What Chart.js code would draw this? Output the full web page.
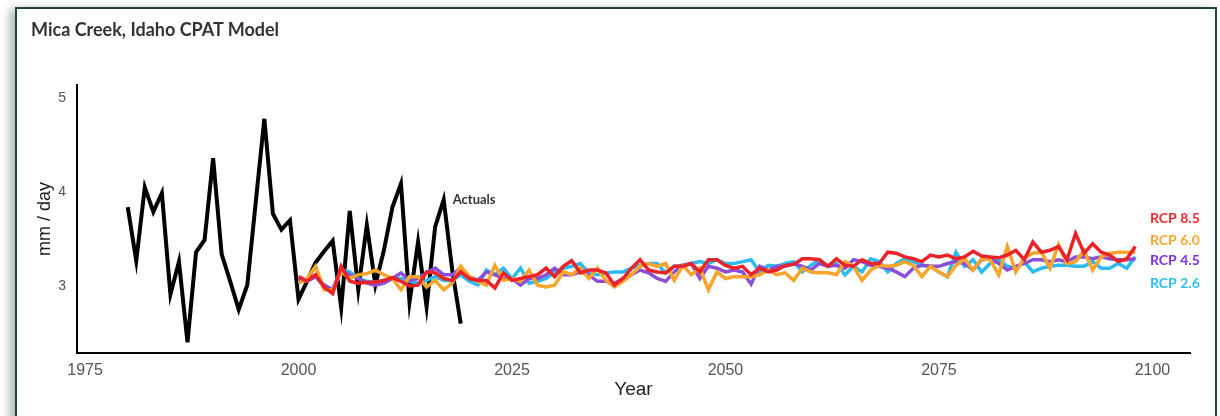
<!DOCTYPE html>
<html lang="en">
<head>
  <meta charset="UTF-8">
  <title>Mica Creek, Idaho CPAT Model</title>
  <script src="https://cdn.jsdelivr.net/npm/chart.js"></script>
  <style>
    body {
      margin: 0;
      padding: 0;
      background: #fff;
      width: 1220px;
      height: 416px;
      overflow: hidden;
      position: relative;
    }
    #card {
      position: absolute;
      left: 15px;
      top: 7px;
      width: 1198px;
      height: 430px;
      border: 2px solid #1d4b2b;
      box-shadow: -5px 2px 9px rgba(0, 0, 0, 0.3);
      background: #fff;
    }
    #title {
      position: absolute;
      left: 31px;
      top: 18px;
      font-family: 'Lato', sans-serif;
      font-weight: 700;
      font-size: 18px;
      color: #333;
      z-index: 2;
    }
    #chart {
      position: absolute;
      left: 0;
      top: 0;
    }
  </style>
</head>
<body>
  <div id="card"></div>
  <div id="title">Mica Creek, Idaho CPAT Model</div>
  <canvas id="chart" width="1220" height="416"></canvas>
  <script>
    // observed record
    const actualYears = [1980, 1981, 1982, 1983, 1984, 1985, 1986, 1987, 1988, 1989,
      1990, 1991, 1992, 1993, 1994, 1995, 1996, 1997, 1998, 1999,
      2000, 2001, 2002, 2003, 2004, 2005, 2006, 2007, 2008, 2009,
      2010, 2011, 2012, 2013, 2014, 2015, 2016, 2017, 2018, 2019];
    const actuals = [3.84, 3.27, 4.05, 3.79, 3.99, 2.91, 3.26, 2.40, 3.36, 3.49,
      4.36, 3.34, 3.05, 2.75, 3.01, 3.90, 4.78, 3.77, 3.60, 3.70,
      2.86, 3.05, 3.25, 3.37, 3.48, 2.77, 3.80, 2.96, 3.65, 3.01,
      3.38, 3.84, 4.09, 2.83, 3.47, 2.78, 3.63, 3.92, 3.17, 2.60];

    // model runs, one value per year from 2000
    const projYears = Array.from({ length: 99 }, (_, i) => 2000 + i);

    const rcp85 = [3.10, 3.05, 3.12, 2.99, 2.92, 3.21, 3.05, 3.03, 3.04, 3.04, 3.06, 3.09, 3.05, 3.00, 3.01, 3.15, 3.14,
      3.08, 3.06, 3.15, 3.08, 3.06, 3.06, 2.98, 3.14, 3.06, 3.08, 3.10, 3.12, 3.19, 3.10, 3.21, 3.27, 3.14,
      3.17, 3.17, 3.14, 3.01, 3.08, 3.19, 3.28, 3.17, 3.15, 3.14, 3.21, 3.21, 3.24, 3.15, 3.28, 3.28, 3.22,
      3.19, 3.21, 3.12, 3.19, 3.15, 3.17, 3.22, 3.23, 3.29, 3.29, 3.28, 3.21, 3.29, 3.22, 3.21, 3.28, 3.24,
      3.24, 3.36, 3.35, 3.31, 3.29, 3.26, 3.33, 3.31, 3.33, 3.29, 3.31, 3.37, 3.32, 3.31, 3.30, 3.33, 3.38,
      3.28, 3.47, 3.36, 3.38, 3.42, 3.28, 3.56, 3.35, 3.45, 3.36, 3.33, 3.26, 3.29, 3.42];
    const rcp60 = [3.03, 3.08, 3.21, 2.96, 2.96, 3.15, 3.08, 3.12, 3.13, 3.17, 3.12, 3.08, 2.96, 3.10, 3.10, 2.99, 3.06,
      2.96, 3.03, 3.21, 3.10, 3.05, 3.01, 3.22, 3.06, 3.08, 3.05, 3.17, 3.01, 2.99, 3.01, 3.15, 3.12, 3.19,
      3.08, 3.19, 3.06, 2.99, 3.05, 3.12, 3.21, 3.24, 3.21, 3.24, 3.06, 3.22, 3.12, 3.19, 2.96, 3.15, 3.08,
      3.10, 3.10, 3.10, 3.12, 3.17, 3.12, 3.14, 3.06, 3.19, 3.15, 3.14, 3.14, 3.12, 3.26, 3.21, 3.06, 3.17,
      3.22, 3.21, 3.22, 3.26, 3.22, 3.10, 3.21, 3.15, 3.10, 3.22, 3.29, 3.17, 3.29, 3.28, 3.12, 3.42, 3.15,
      3.30, 3.35, 3.36, 3.19, 3.44, 3.24, 3.26, 3.38, 3.17, 3.31, 3.35, 3.36, 3.36, 3.36];
    const rcp45 = [3.06, 3.06, 3.10, 3.01, 2.96, 3.17, 3.12, 3.08, 3.03, 3.01, 3.03, 3.08, 3.14, 3.06, 3.08, 3.14, 3.19,
      3.12, 3.12, 3.19, 3.10, 3.06, 3.15, 3.12, 3.08, 3.08, 3.01, 3.08, 3.08, 3.12, 3.19, 3.12, 3.12, 3.15,
      3.12, 3.05, 3.05, 3.03, 3.08, 3.12, 3.17, 3.14, 3.08, 3.05, 3.15, 3.22, 3.24, 3.08, 3.21, 3.19, 3.15,
      3.17, 3.15, 3.02, 3.21, 3.17, 3.21, 3.21, 3.24, 3.21, 3.17, 3.24, 3.21, 3.22, 3.19, 3.28, 3.26, 3.22,
      3.21, 3.19, 3.15, 3.10, 3.19, 3.22, 3.21, 3.21, 3.24, 3.26, 3.24, 3.17, 3.28, 3.29, 3.24, 3.17, 3.21,
      3.24, 3.28, 3.28, 3.26, 3.28, 3.26, 3.31, 3.31, 3.29, 3.31, 3.29, 3.28, 3.28, 3.29];
    const rcp26 = [3.05, 3.05, 3.10, 2.99, 2.97, 3.17, 3.15, 3.08, 3.05, 3.04, 3.06, 3.08, 3.08, 3.05, 3.03, 3.06, 3.10,
      3.06, 3.06, 3.12, 3.05, 3.01, 3.17, 3.12, 3.19, 3.08, 3.19, 3.03, 3.05, 3.08, 3.15, 3.19, 3.21, 3.24,
      3.14, 3.12, 3.14, 3.15, 3.15, 3.19, 3.22, 3.24, 3.24, 3.14, 3.21, 3.22, 3.24, 3.26, 3.24, 3.28, 3.24,
      3.24, 3.26, 3.28, 3.15, 3.22, 3.21, 3.24, 3.26, 3.15, 3.22, 3.28, 3.21, 3.24, 3.12, 3.21, 3.15, 3.29,
      3.26, 3.15, 3.24, 3.29, 3.26, 3.22, 3.21, 3.15, 3.10, 3.36, 3.21, 3.28, 3.15, 3.24, 3.28, 3.21, 3.19,
      3.26, 3.15, 3.19, 3.21, 3.22, 3.22, 3.21, 3.21, 3.26, 3.19, 3.19, 3.24, 3.19, 3.31];

    const xTicks = [1975, 2000, 2025, 2050, 2075, 2100];
    const yTicks = [3, 4, 5];

    const rcpLabels = ['RCP 8.5', 'RCP 6.0', 'RCP 4.5', 'RCP 2.6'];
    const rcpColors = ['#ee2a2f', '#f9a52f', '#7d30ee', '#2dbdf0'];
    const lineColors = ['#ec2229', '#f8a52a', '#8a4fd6', '#2bbbee'];

    const toPoints = (xs, ys) => xs.map((x, i) => ({ x: x, y: ys[i] }));

    // text next to the lines
    const labelPlugin = {
      id: 'lineLabels',
      afterDatasetsDraw(chart) {
        const { ctx, scales, chartArea } = chart;
        ctx.save();
        ctx.textBaseline = 'middle';
        ctx.textAlign = 'left';
        ctx.font = 'bold 13px Lato, sans-serif';
        ctx.fillStyle = '#333';
        const last = actualYears.indexOf(2017);
        ctx.fillText('Actuals', scales.x.getPixelForValue(actualYears[last]) + 9,
          scales.y.getPixelForValue(actuals[last]));

        ctx.font = 'bold 14px Lato, sans-serif';
        const ys = [3.72, 3.49, 3.27, 3.03];
        rcpLabels.forEach((t, i) => {
          ctx.fillStyle = rcpColors[i];
          ctx.fillText(t, chartArea.right - 40, scales.y.getPixelForValue(ys[i]));
        });
        ctx.restore();
      }
    };

    const ctx = document.getElementById('chart').getContext('2d');
    new Chart(ctx, {
      type: 'line',
      data: {
        datasets: [
          {
            label: 'RCP 8.5', data: toPoints(projYears, rcp85),
            borderColor: lineColors[0], borderWidth: 3.5, order: 1
          },
          {
            label: 'RCP 6.0', data: toPoints(projYears, rcp60),
            borderColor: lineColors[1], borderWidth: 3.5, order: 2
          },
          {
            label: 'RCP 4.5', data: toPoints(projYears, rcp45),
            borderColor: lineColors[2], borderWidth: 3.5, order: 3
          },
          {
            label: 'RCP 2.6', data: toPoints(projYears, rcp26),
            borderColor: lineColors[3], borderWidth: 3.5, order: 4
          },
          {
            label: 'Actuals', data: toPoints(actualYears, actuals),
            borderColor: '#000', borderWidth: 4, order: 5
          }
        ]
      },
      options: {
        responsive: false,
        animation: false,
        events: [],
        elements: {
          point: { radius: 0 },
          line: { tension: 0, fill: false, borderJoinStyle: 'miter' }
        },
        layout: { padding: { left: 0, right: 30, top: 85, bottom: 0 } },
        plugins: {
          legend: { display: false },
          tooltip: { enabled: false }
        },
        scales: {
          x: {
            type: 'linear',
            min: 1974.06,
            max: 2104.4,
            grid: { display: false, drawTicks: false },
            border: { display: true, color: '#000', width: 2 },
            afterBuildTicks: (s) => { s.ticks = xTicks.map(v => ({ value: v })); },
            afterFit: (s) => { s.height = 63; },
            ticks: {
              padding: 8,
              color: '#555',
              font: { family: "'Liberation Sans Narrow', 'Liberation Sans', sans-serif", size: 16 },
              callback: (v) => String(v)
            },
            title: {
              display: true,
              text: 'Year',
              color: '#222',
              font: { family: "'Liberation Sans', sans-serif", size: 19 },
              padding: { top: 0, bottom: 15 }
            }
          },
          y: {
            min: 2.287,
            max: 5.14,
            grid: { display: false, drawTicks: false },
            border: { display: true, color: '#000', width: 2 },
            afterBuildTicks: (s) => { s.ticks = yTicks.map(v => ({ value: v })); },
            afterFit: (s) => { s.width = 77; },
            ticks: {
              padding: 11,
              color: '#555',
              font: { family: "'Liberation Sans', sans-serif", size: 14 },
              callback: (v) => String(v)
            },
            title: {
              display: true,
              text: 'mm / day',
              color: '#222',
              font: { family: "'Liberation Sans', sans-serif", size: 18 },
              padding: { top: 34, bottom: 0 }
            }
          }
        }
      },
      plugins: [labelPlugin]
    });
  </script>
</body>
</html>
